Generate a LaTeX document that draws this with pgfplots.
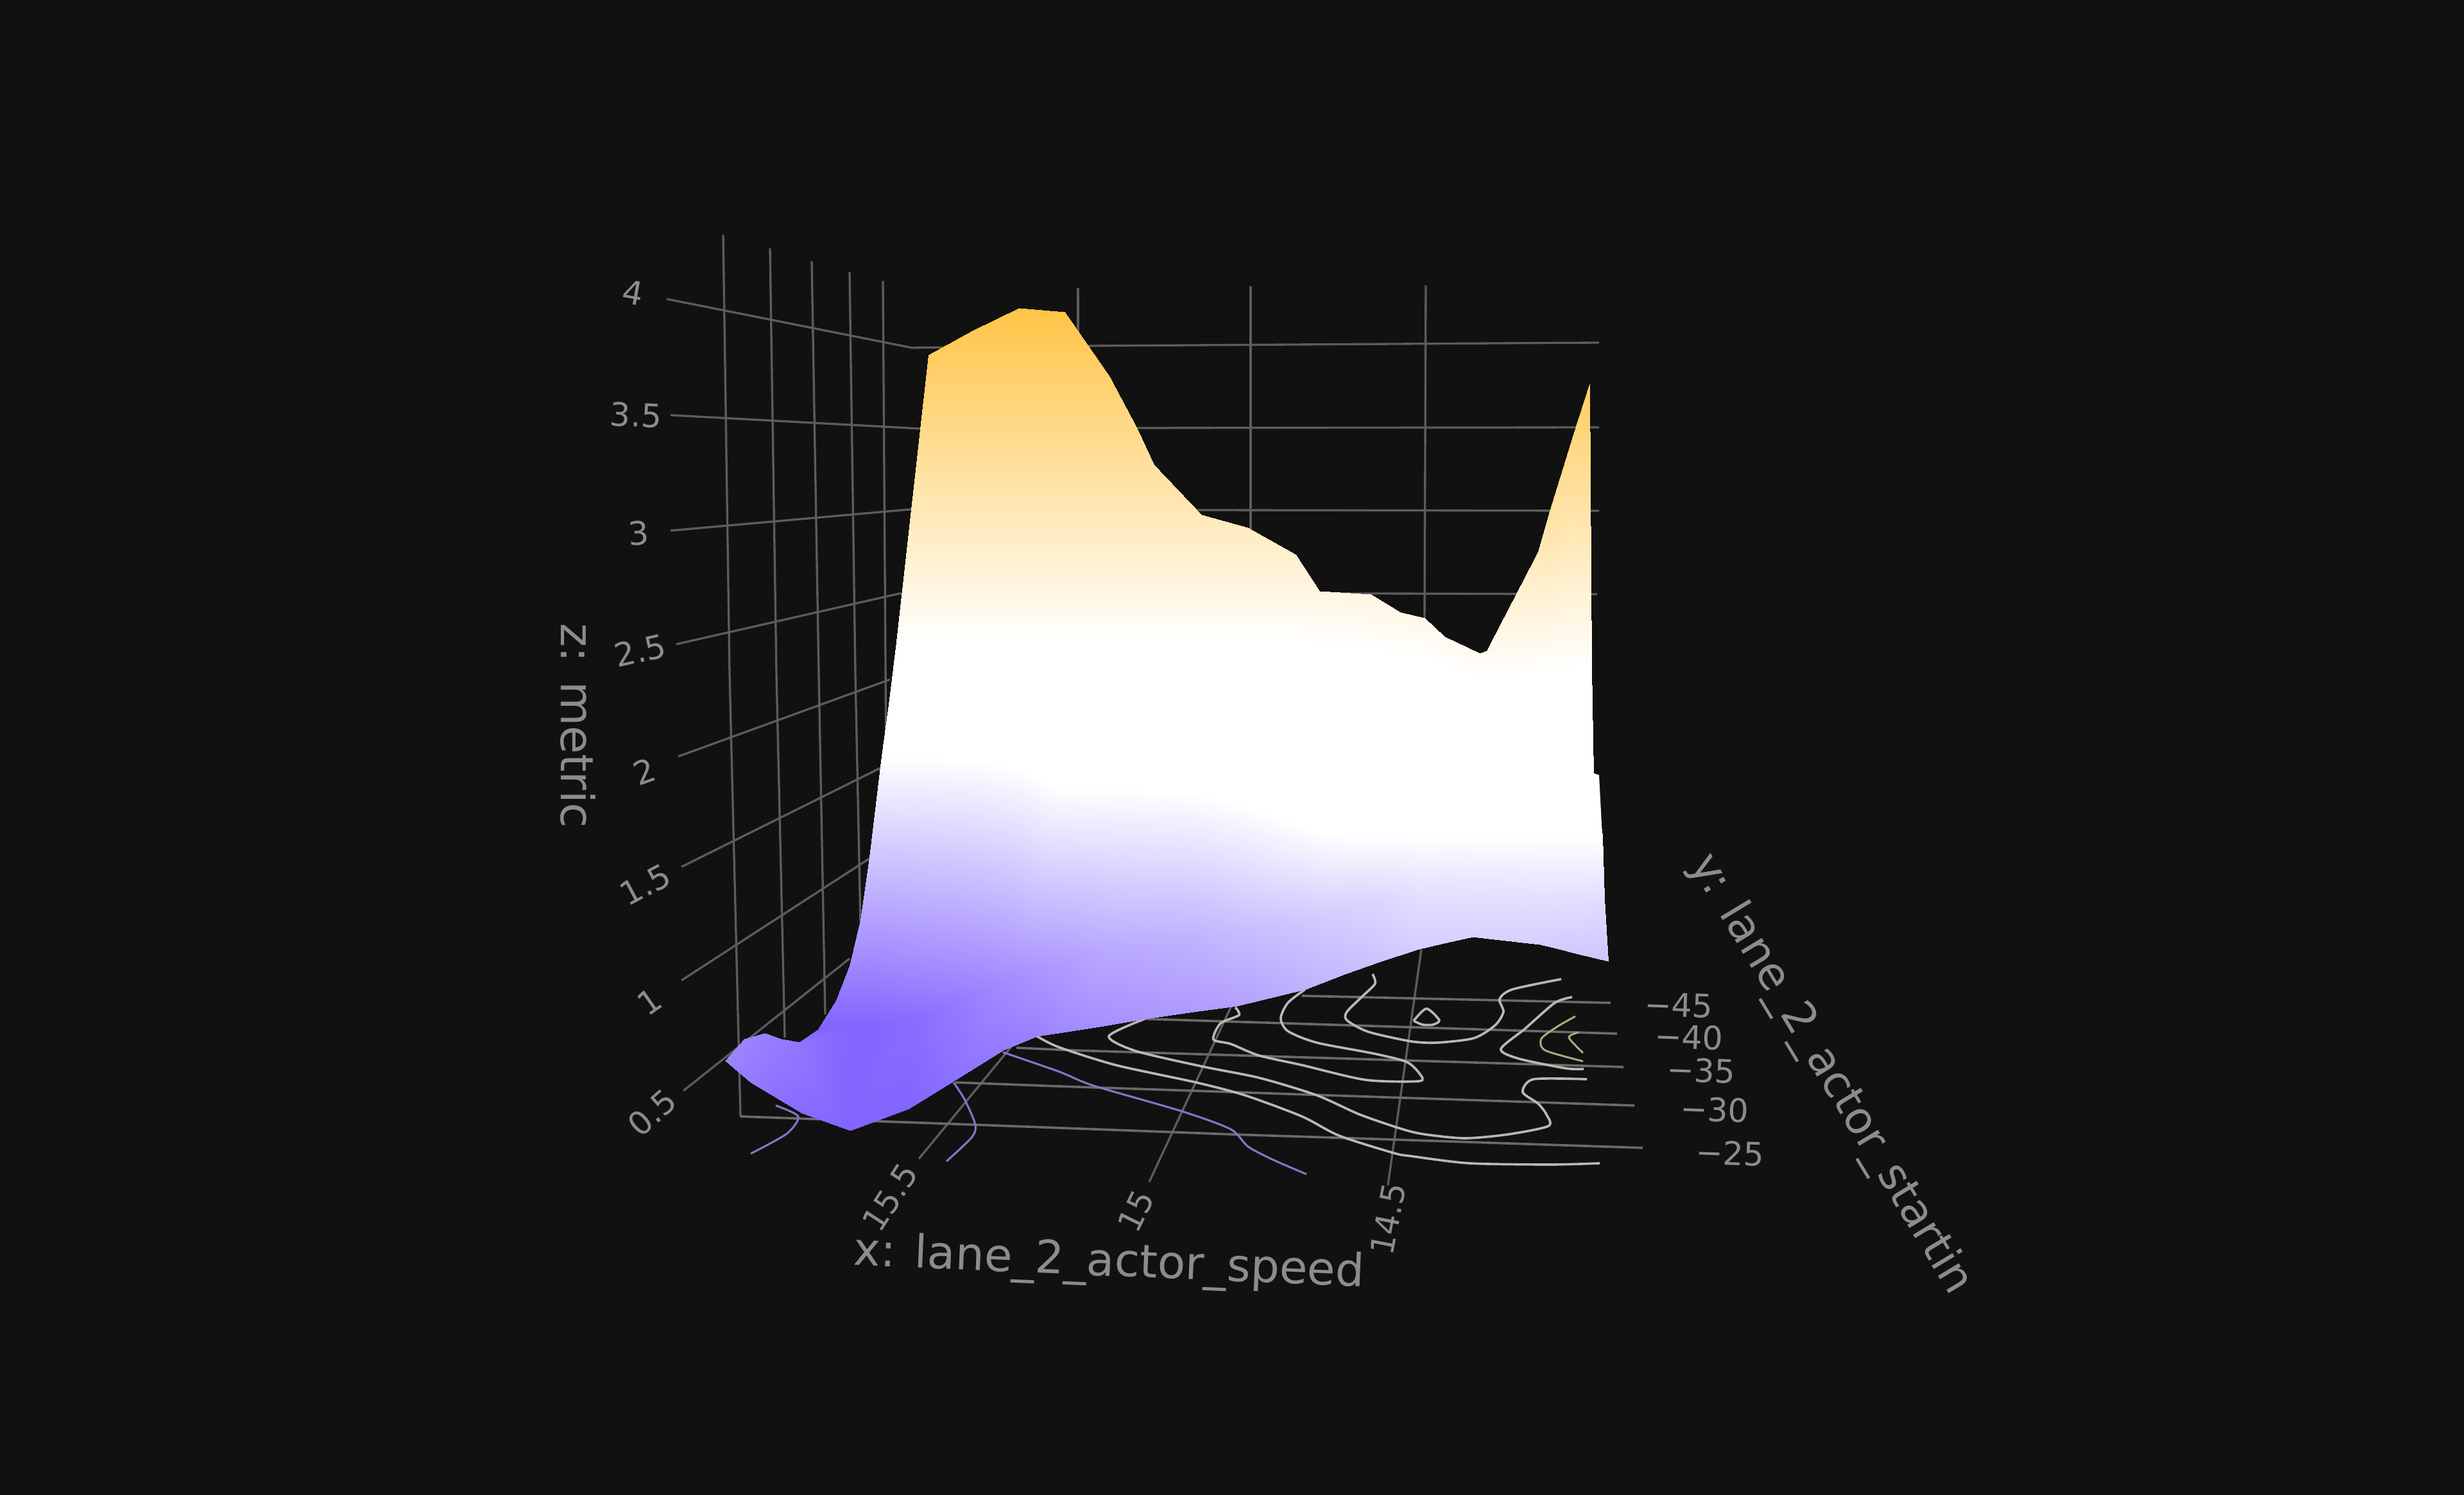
\documentclass[border=0pt]{standalone}
\usepackage{pgfplots}
\usepackage{fontspec}
\setmainfont{DejaVu Sans}
\pgfplotsset{compat=1.18}
\definecolor{bgc}{HTML}{111111}
\definecolor{gridc}{HTML}{5C5C5C}
\definecolor{floorc}{HTML}{6A6A6A}
\definecolor{txtc}{HTML}{8C8C8C}
\definecolor{cgray}{HTML}{B8B8B4}
\definecolor{cpurp}{HTML}{7C78C4}
\definecolor{cyel}{HTML}{B0AA80}
\pgfplotsset{
  gl/.style={draw=gridc,line width=0.95pt,no marks},
  fl/.style={draw=floorc,line width=1.05pt,no marks},
  ct/.style={draw=cgray,line width=1.05pt,no marks,smooth,tension=0.45},
  cp/.style={draw=cpurp,line width=0.9pt,no marks,smooth,tension=0.45},
  cy/.style={draw=cyel,line width=0.85pt,no marks,smooth,tension=0.45},
}
\newcommand{\ticklab}[4]{\node[rotate=#3,text=txtc,font=\fontsize{14.4}{16}\selectfont,inner sep=0pt] at (axis cs:#1,#2) {#4};}
\newcommand{\titlelab}[5]{\node[rotate=#3,text=txtc,font=\fontsize{#5}{24}\selectfont,inner sep=0pt] at (axis cs:#1,#2) {#4};}
\begin{document}
\begin{tikzpicture}
\begin{axis}[
  scale only axis, width=38.4cm, height=23.3cm,
  xmin=0, xmax=3840, ymin=0, ymax=2330, y dir=reverse,
  hide axis, clip=false,
  point meta min=-1, point meta max=1,
  colormap={sc}{rgb255(0cm)=(130,100,255) rgb255(85cm)=(255,255,255) rgb255(116cm)=(255,255,255) rgb255(200cm)=(255,196,69)},
]
% background
\addplot[fill=bgc,draw=none] coordinates {(0,0) (3840,0) (3840,2330) (0,2330)} --cycle;
% z grid lines
\addplot[gl] coordinates {(1039,466) (1421,542) (1700,539) (2492,534)};
\addplot[gl] coordinates {(1045,647) (1433,668) (1775,667) (2492,666)};
\addplot[gl] coordinates {(1045,827) (1417,794) (1872,795) (2492,796)};
\addplot[gl] coordinates {(1054,1004) (1402,925) (2139,925) (2489,926)};
\addplot[gl] coordinates {(1057,1179) (1387,1059)};
\addplot[gl] coordinates {(1062,1351) (1372,1197)};
\addplot[gl] coordinates {(1062,1528) (1355,1338)};
\addplot[gl] coordinates {(1065,1700) (1324,1494)};
% wall verticals
\addplot[gl] coordinates {(1127,366) (1137,1050) (1154,1740)};
\addplot[gl] coordinates {(1200,387) (1210,1050) (1223,1617)};
\addplot[gl] coordinates {(1265,407) (1276,1050) (1286,1581)};
\addplot[gl] coordinates {(1324,424) (1333,1050) (1341,1438)};
\addplot[gl] coordinates {(1376,438) (1381,1185)};
\addplot[gl] coordinates {(1680,449) (1680,560)};
\addplot[gl] coordinates {(1949,446) (1949,830)};
\addplot[gl] coordinates {(2222,445) (2220,970)};
% floor lines: x ticks
\addplot[gl] coordinates {(1577,1630) (1432,1806)};
\addplot[gl] coordinates {(1918,1570) (1791,1842)};
\addplot[gl] coordinates {(2215,1480) (2163,1847)};
% floor lines: y ticks
\addplot[fl] coordinates {(2029,1552) (2510,1563)};
\addplot[fl] coordinates {(1784,1588) (2520,1611)};
\addplot[fl] coordinates {(1584,1633) (1672,1637) (2530,1663)};
\addplot[fl] coordinates {(1489,1687) (1650,1693) (2547,1723)};
\addplot[fl] coordinates {(1154,1740) (1521,1753) (1921,1768) (2200,1777) (2560,1789)};
% contours
\addplot[cp] coordinates {(1563,1640) (1650,1670) (1704,1692) (1842,1732) (1918,1760) (1945,1787) (1985,1808) (2036,1830)};
\addplot[cp] coordinates {(1486,1687) (1503,1713) (1520,1753) (1514,1773) (1475,1810)};
\addplot[cp] coordinates {(1209,1723) (1244,1740) (1226,1767) (1170,1798)};
\addplot[ct] coordinates {(1616,1615) (1650,1632) (1739,1660) (1864,1687) (1940,1707) (2029,1740) (2087,1770) (2172,1797) (2200,1802) (2290,1813) (2417,1815) (2493,1813)};
\addplot[ct] coordinates {(1784,1588) (1728,1615) (1770,1638) (1873,1662) (1963,1680) (2052,1707) (2119,1737) (2186,1760) (2221,1768) (2283,1774) (2350,1768) (2413,1755) (2410,1737) (2397,1720) (2373,1702) (2390,1682) (2473,1682)};
\addplot[ct] coordinates {(1925,1570) (1931,1582) (1902,1595) (1891,1620) (1918,1627) (1962,1645) (2029,1660) (2128,1683) (2212,1685) (2212,1673) (2192,1655) (2141,1642) (2052,1625) (2007,1607) (1996,1587) (2007,1563) (2034,1542)};
\addplot[ct] coordinates {(2139,1518) (2143,1533) (2123,1553) (2099,1577) (2099,1590) (2132,1608) (2199,1623) (2240,1625) (2297,1618) (2330,1598) (2343,1577) (2337,1557) (2357,1542) (2433,1526)};
\addplot[ct] coordinates {(2203,1591) (2223,1572) (2243,1590) (2233,1597) (2217,1597) (2203,1591)};
\addplot[ct] coordinates {(2450,1554) (2423,1563) (2377,1603) (2339,1635) (2367,1650) (2440,1665) (2468,1666)};
\addplot[cy] coordinates {(2455,1584) (2427,1600) (2402,1619) (2408,1637) (2467,1654)};
\addplot[cy] coordinates {(2460,1609) (2445,1617) (2467,1641)};
% surface: left wing
\addplot[surf,shader=interp,mesh/cols=2,mesh/rows=11,point meta=explicit,mesh/check=false]
 table[x=x,y=y,meta=m] {
x y m
1374 1178 -0.15
1374 1178 -0.15
1355 1336 -0.468
1360 1336 -0.468
1341 1434 -0.666
1352 1434 -0.666
1324 1505 -0.809
1346 1505 -0.809
1303 1559 -0.917
1341 1559 -0.917
1275 1604 -1
1338 1600 -1
1246 1624 -0.92
1331 1680 -1
1217 1619 -0.88
1325 1762 -1
1192 1610 -0.85
1250 1735 -0.97
1160 1619 -0.83
1170 1687 -0.88
1130 1653 -0.82
1130 1653 -0.82
};
% surface: main body
\addplot[surf,shader=interp,mesh/cols=6,mesh/rows=22,point meta=explicit,mesh/check=false]
 table[x=x,y=y,meta=m] {
x y m
1447 553 0.882
1397 1000 0.16
1386 1090 0
1374 1178 -0.15
1338 1600 -1
1325 1762 -1
1516 515 0.943
1476 1000 0.16
1469 1090 0
1461 1180 -0.15
1427 1590 -0.95
1416 1728 -1
1588 480 1
1545 1000 0.16
1538 1092 0
1530 1185 -0.15
1499 1560 -0.87
1489 1683 -0.93
1659 486 0.99
1616 1000 0.16
1608 1100 0
1600 1200 -0.15
1572 1530 -0.78
1563 1637 -0.88
1700 545 0.895
1664 1000 0.16
1656 1113 0
1647 1226 -0.15
1624 1510 -0.72
1616 1615 -0.84
1729 587 0.827
1697 1000 0.16
1689 1113 0
1680 1227 -0.15
1659 1500 -0.69
1650 1610 -0.8
1772 668 0.696
1753 1000 0.16
1747 1114 0
1741 1229 -0.15
1727 1480 -0.62
1720 1599 -0.76
1798 724 0.606
1794 1000 0.16
1792 1115 0
1790 1231 -0.15
1786 1470 -0.6
1784 1588 -0.73
1872 802 0.48
1869 1000 0.16
1867 1118 0
1865 1236 -0.15
1862 1460 -0.57
1860 1577 -0.7
1944 822 0.447
1940 1000 0.16
1937 1126 0
1934 1253 -0.15
1930 1450 -0.52
1927 1568 -0.67
2019 864 0.38
2022 1000 0.16
2025 1141 0
2028 1283 -0.15
2032 1440 -0.47
2034 1542 -0.58
2056 921 0.296
2057 1005 0.16
2057 1151 0
2058 1297 -0.15
2059 1430 -0.44
2060 1532 -0.56
2136 926 0.296
2130 1010 0.16
2121 1156 0
2111 1302 -0.15
2103 1410 -0.4
2096 1518 -0.53
2182 954 0.267
2178 1020 0.16
2170 1161 0
2162 1302 -0.15
2156 1400 -0.37
2150 1499 -0.48
2220 963 0.26
2219 1025 0.16
2216 1163 0
2212 1302 -0.15
2210 1390 -0.32
2208 1480 -0.43
2251 992 0.238
2251 1040 0.16
2250 1171 0
2250 1302 -0.15
2250 1380 -0.31
2250 1470 -0.42
2306 1018 0.228
2305 1060 0.16
2302 1181 0
2300 1302 -0.15
2298 1380 -0.3
2295 1460 -0.4
2317 1014 0.234
2317 1060 0.16
2318 1181 0
2319 1302 -0.15
2319 1380 -0.3
2320 1463 -0.4
2397 860 0.467
2398 1050 0.16
2398 1176 0
2399 1302 -0.15
2400 1390 -0.31
2400 1472 -0.42
2415 797 0.6
2419 1042 0.16
2420 1172 0
2422 1302 -0.15
2424 1390 -0.31
2425 1478 -0.44
2452 677 0.74
2456 1042 0.16
2457 1172 0
2458 1302 -0.15
2459 1400 -0.33
2460 1487 -0.45
2477 599 0.87
2480 1040 0.16
2483 1205 0
2497 1302 -0.15
2500 1400 -0.34
2506 1498 -0.47
};
\addplot[fill=white,draw=none] coordinates {(2483,1205) (2492,1208) (2497,1302)} --cycle;
% z ticks
\ticklab{987}{456}{-10}{4}
\ticklab{991}{647}{-3}{3.5}
\ticklab{995}{831}{4}{3}
\ticklab{998}{1014}{13}{2.5}
\ticklab{1004}{1202}{20}{2}
\ticklab{1006}{1379}{28}{1.5}
\ticklab{1012}{1561}{35}{1}
\ticklab{1016}{1734}{42}{0.5}
% x ticks
\ticklab{1387}{1866}{57}{15.5}
\ticklab{1770}{1888}{64}{15}
\ticklab{2163}{1900}{79}{14.5}
% y ticks
\ticklab{2616}{1567}{-2}{−45}
\ticklab{2632}{1616}{-2}{−40}
\ticklab{2651}{1668}{-2}{−35}
\ticklab{2672}{1729}{-2}{−30}
\ticklab{2696}{1797}{-2}{−25}
% titles
\titlelab{901}{1131}{-90}{z: metric}{20.2}
\titlelab{1728}{1970}{-2.4}{x: lane\_2\_actor\_speed}{20.2}
\titlelab{2852}{1675}{-58.8}{y: lane\_2\_actor\_startin}{19.7}
\end{axis}
\end{tikzpicture}
\end{document}
